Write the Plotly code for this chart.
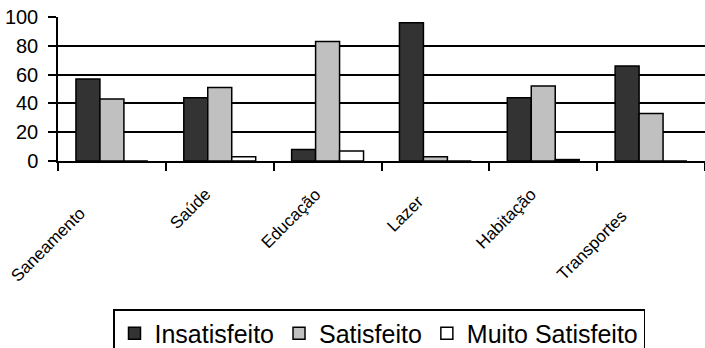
import plotly.graph_objects as go

categories = ["Saneamento", "Saúde", "Educação", "Lazer", "Habitação", "Transportes"]
insatisfeito = [57, 44, 8, 96, 44, 66]
satisfeito = [43, 51, 83, 3, 52, 33]
muito_satisfeito = [0, 3, 7, 0, 1, 0]
series_names = ["Insatisfeito", "Satisfeito", "Muito Satisfeito"]
y_ticks = [0, 20, 40, 60, 80, 100]

# styling (label placement offsets in px, not data)
colors = ["#333333", "#c0c0c0", "#ffffff"]
label_xshift = [-20, -2, 0, -5, 0, -18]
label_yshift = [-40, -21, -21, -28, -21, -43]

FONT = "Liberation Sans, Arial, sans-serif"

fig = go.Figure()
for name, vals, col in zip(series_names, [insatisfeito, satisfeito, muito_satisfeito], colors):
    fig.add_trace(go.Bar(
        x=categories, y=vals, name=name,
        marker=dict(color=col, line=dict(color="#000000", width=1.5)),
    ))

for cat, dx, dy in zip(categories, label_xshift, label_yshift):
    fig.add_annotation(
        x=cat, y=0, xref="x", yref="y", text=cat, showarrow=False,
        textangle=-45, xanchor="right", yanchor="top",
        xshift=dx, yshift=dy,
        font=dict(family=FONT, size=17, color="#000000"),
    )

fig.update_layout(
    width=705, height=348,
    margin=dict(l=58, r=0, t=17, b=187, pad=0),
    paper_bgcolor="white", plot_bgcolor="white",
    barmode="group", bargap=0.333, bargroupgap=0,
    font=dict(family=FONT, color="#000000"),
    showlegend=True,
    legend=dict(
        orientation="h", xref="container", yref="container",
        x=113 / 705, xanchor="left", y=1 - 309 / 348, yanchor="top",
        bordercolor="#000000", borderwidth=1.5, bgcolor="white",
        font=dict(family=FONT, size=25, color="#000000"),
    ),
)
fig.update_xaxes(
    type="category", range=[-0.5, len(categories) - 0.5],
    showticklabels=False, tickson="boundaries",
    ticks="outside", ticklen=8, tickwidth=1.5, tickcolor="#000000",
    showline=True, linecolor="#000000", linewidth=1.5,
    showgrid=False, zeroline=False,
)
fig.update_yaxes(
    range=[0, 100], tickvals=y_ticks,
    ticks="outside", ticklen=8, tickwidth=1.5, tickcolor="#000000",
    ticklabelstandoff=6,
    tickfont=dict(family=FONT, size=20, color="#000000"),
    showline=True, linecolor="#000000", linewidth=1.5,
    showgrid=True, gridcolor="#000000", gridwidth=1.5,
    zeroline=False,
)

fig.write_html("out.html")
